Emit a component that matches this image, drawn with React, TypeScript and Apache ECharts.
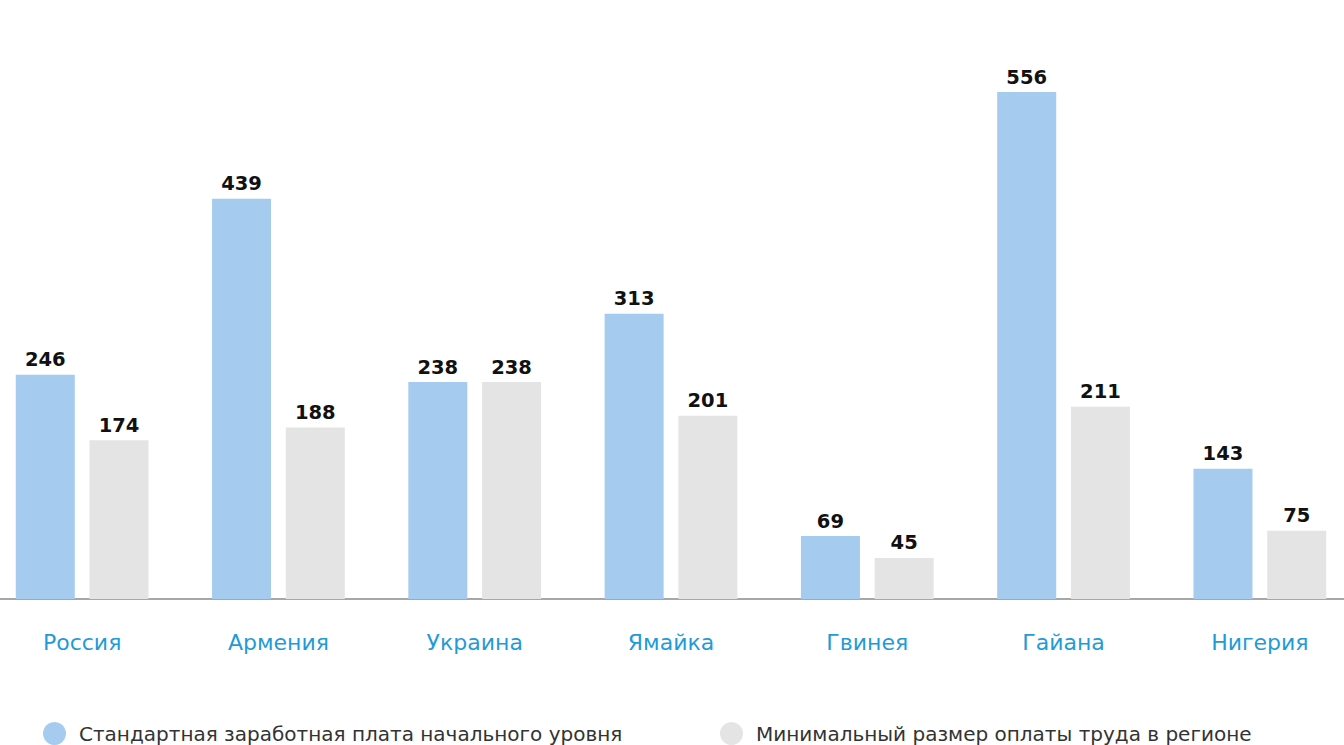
import React, { useEffect, useRef } from "react";
import * as echarts from "echarts";

const categories = ["Россия", "Армения", "Украина", "Ямайка", "Гвинея", "Гайана", "Нигерия"];
const entrySalary = [246, 439, 238, 313, 69, 556, 143];
const minWage = [174, 188, 238, 201, 45, 211, 75];
const seriesNames = [
  "Стандартная заработная плата начального уровня",
  "Минимальный размер оплаты труда в регионе",
];

const FONT = "'DejaVu Sans', 'Noto Sans', sans-serif";

export default function App() {
  const ref = useRef<HTMLDivElement>(null);
  useEffect(() => {
    if (!ref.current) return;
    const chart = echarts.init(ref.current, null, { renderer: "svg" });
    const label = {
      show: true,
      position: "top",
      distance: 5,
      color: "#111",
      fontSize: 19.5,
      fontWeight: "bold",
      fontFamily: FONT,
    };
    const legendBase = {
      top: 722,
      padding: 0,
      icon: "circle",
      itemWidth: 23,
      itemHeight: 23,
      itemGap: 8,
      textStyle: { fontSize: 20, color: "#333", fontFamily: FONT, padding: [0, 0, 0, 8] },
    };
    chart.setOption({
      animation: false,
      backgroundColor: "#fff",
      textStyle: { fontFamily: FONT },
      grid: {
        left: -16,
        right: -14,
        top: 52,
        bottom: 146,
        containLabel: false,
        outerBoundsMode: "none",
      },
      legend: [
        {
          ...legendBase,
          left: 43,
          data: [{ name: seriesNames[0], itemStyle: { color: "#a5cbee" } }],
        },
        {
          ...legendBase,
          left: 720,
          data: [{ name: seriesNames[1], itemStyle: { color: "#e4e4e4" } }],
        },
      ],
      xAxis: {
        type: "category",
        data: categories,
        axisLine: { show: true, lineStyle: { color: "#8a8a8a", width: 1.5 } },
        axisTick: { show: false },
        axisLabel: { color: "#1f9bd8", fontSize: 22, margin: 32, fontFamily: FONT },
      },
      yAxis: {
        type: "value",
        min: 0,
        max: 600,
        show: false,
        splitLine: { show: false },
      },
      series: [
        {
          name: seriesNames[0],
          type: "bar",
          data: entrySalary,
          barWidth: 59,
          barGap: "25%",
          itemStyle: { color: "#a5cbee" },
          label,
        },
        {
          name: seriesNames[1],
          type: "bar",
          data: minWage,
          barWidth: 59,
          barGap: "25%",
          itemStyle: { color: "#e4e4e4" },
          label,
        },
      ],
    });
    return () => chart.dispose();
  }, []);
  return (
    <div
      ref={ref}
      style={{ position: "absolute", left: 0, top: 0, width: 1344, height: 745 }}
    />
  );
}
